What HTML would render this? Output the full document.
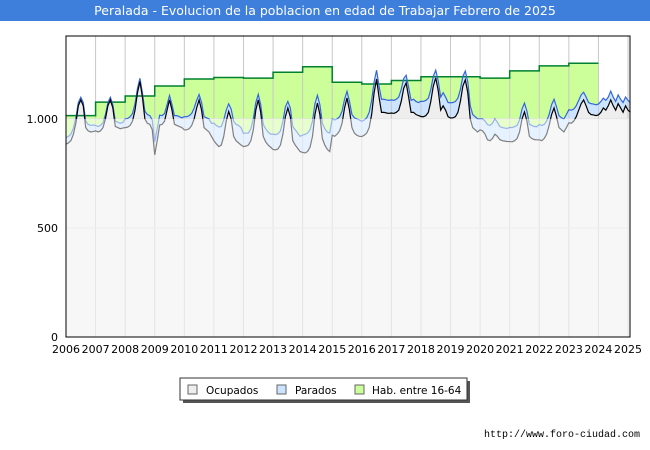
<!DOCTYPE html>
<html><head><meta charset="utf-8"><style>
body{margin:0;background:#fff;font-family:"DejaVu Sans","Liberation Sans",sans-serif;}
#wrap{position:relative;width:650px;height:450px;overflow:hidden;}
</style></head><body>
<div id="wrap">
<svg id="svg" width="650" height="450" xmlns="http://www.w3.org/2000/svg">
<rect x="0" y="0" width="650" height="21" fill="#3d7fdb"/>
<text x="325" y="15" text-anchor="middle" fill="#fff" font-size="12.5" font-family="DejaVu Sans, sans-serif">Peralada - Evolucion de la poblacion en edad de Trabajar Febrero de 2025</text>
<g id="plot"></g>
<g>
<rect x="183" y="381" width="287" height="22" fill="#555"/>
<rect x="180" y="378" width="287" height="22" fill="#fff" stroke="#333"/>
<rect x="188" y="385" width="9" height="9" fill="#eeeeee" stroke="#666"/>
<text x="206" y="394" font-size="10.5" fill="#000">Ocupados</text>
<rect x="277" y="385" width="9" height="9" fill="#cce4ff" stroke="#666"/>
<text x="295" y="394" font-size="10.5" fill="#000">Parados</text>
<rect x="355" y="385" width="9" height="9" fill="#ccff99" stroke="#666"/>
<text x="372" y="394" font-size="10.5" fill="#000">Hab. entre 16-64</text>
</g>
<text x="640" y="437" text-anchor="end" font-size="10" fill="#000" font-family="Liberation Mono, monospace">http://www.foro-ciudad.com</text>
</svg>
</div>
<script>
const years=[2006,2007,2008,2009,2010,2011,2012,2013,2014,2015,2016,2017,2018,2019,2020,2021,2022,2023,2024,2025];
const yTicks=[0,500,1000];
const yTickLabels=["0","500","1.000"];
const habYears=[2006,2007,2008,2009,2010,2011,2012,2013,2014,2015,2016,2017,2018,2019,2020,2021,2022,2023];
const habValues=[1015,1077,1105,1151,1183,1190,1187,1214,1239,1168,1160,1176,1193,1193,1187,1220,1243,1255];
const ocupados=[
884,890,900,930,980,1060,1087,1060,960,945,940,942,
945,940,945,960,1000,1060,1087,1050,965,960,955,958,
960,962,970,990,1040,1120,1171,1100,1000,980,975,950,
835,900,972,975,990,1040,1087,1040,975,970,965,960,
950,950,955,970,1000,1050,1087,1040,960,950,940,920,
900,885,873,880,920,990,1034,1000,920,900,890,880,
873,875,880,900,950,1040,1087,1030,920,895,880,870,
860,858,862,880,930,1010,1050,1010,900,880,865,850,
846,844,850,870,920,1020,1073,1020,910,880,860,850,
925,920,930,945,980,1050,1096,1040,960,935,925,920,
919,925,935,960,1020,1120,1183,1100,1030,1030,1027,1025,
1027,1025,1030,1040,1080,1140,1165,1100,1030,1030,1020,1015,
1011,1010,1015,1030,1080,1150,1188,1130,1040,1060,1040,1010,
1004,1005,1010,1030,1080,1150,1179,1120,1000,960,950,940,
950,945,930,904,900,910,930,920,905,900,898,896,
896,895,900,910,940,1000,1032,990,920,910,905,904,
904,900,910,930,970,1020,1050,1010,960,950,940,960,
982,980,990,1010,1040,1070,1087,1060,1030,1020,1018,1015,
1018,1030,1050,1040,1060,1087,1060,1040,1070,1050,1030,1060,
1040,1030];
const parados=[
30,30,30,28,25,15,12,15,30,30,30,30,
25,25,25,22,20,15,12,15,25,25,25,25,
40,40,40,35,30,20,15,20,35,40,40,45,
60,55,45,40,35,25,20,25,40,45,45,45,
60,60,60,55,50,35,25,35,50,55,60,60,
80,85,90,85,75,50,35,45,70,75,80,80,
60,60,55,55,50,35,25,35,55,60,60,60,
70,70,70,65,60,45,30,40,65,70,70,70,
80,85,85,80,70,50,35,45,70,75,80,85,
75,75,70,65,55,40,30,40,60,70,75,75,
70,70,70,70,65,50,40,50,60,60,60,60,
60,60,60,60,55,45,35,45,55,60,60,60,
70,70,70,65,55,45,35,45,60,60,60,65,
70,70,70,65,55,45,40,50,60,60,60,60,
50,55,60,70,70,70,70,65,60,60,60,60,
65,65,65,60,55,45,40,45,55,60,60,60,
70,70,65,60,50,45,40,45,55,55,60,60,
60,60,55,50,45,40,35,40,45,50,50,50,
50,50,45,45,40,40,40,40,40,40,45,40,
45,45];
const NS="http://www.w3.org/2000/svg";
const L=66,R=630,T=36,B=337,X0=2006;
const yMax=1380;
function xs(t){return L+(t-X0)/(2025-X0)*(628-L);}
function ys(v){return B-v/yMax*(B-T);}
const g=document.getElementById('plot');
function mk(tag,attrs){const e=document.createElementNS(NS,tag);for(const k in attrs)e.setAttribute(k,attrs[k]);g.appendChild(e);return e;}
const bg=mk('rect',{x:L,y:T,width:R-L,height:B-T,fill:'#fff'});


let hp=`M${xs(habYears[0])},${ys(0)}`;
let hl='';
habYears.forEach((y,i)=>{const seg=` L${xs(y)},${ys(habValues[i])} L${xs(y+1)},${ys(habValues[i])}`;hp+=seg;hl+=seg;});
hl='M'+hl.trim().slice(1);
hp+=` L${xs(habYears[habYears.length-1]+1)},${ys(0)} Z`;
const ha=mk('path',{d:hp,fill:'#ccff99'});


const tt=ocupados.map((_,i)=>X0+i/12);
const topVals=ocupados.map((v,i)=>v+parados[i]);
function area(vals){let d=`M${xs(tt[0])},${ys(0)}`;vals.forEach((v,i)=>d+=` L${xs(tt[i])},${ys(v)}`);d+=` L${xs(tt[tt.length-1])},${ys(0)} Z`;return d;}
function line(vals){return vals.map((v,i)=>(i?'L':'M')+xs(tt[i])+','+ys(v)).join(' ');}
const pa=mk('path',{d:area(topVals),fill:'#cce4ff'});


const oa=mk('path',{d:area(ocupados),fill:'#eeeeee'});


years.forEach(y=>{const l=mk('line',{x1:xs(y),x2:xs(y),y1:T,y2:B,stroke:'#c8c8c8','stroke-width':1});


const t=mk('text',{x:xs(y),y:B+16,'text-anchor':'middle','font-size':11,fill:'#000'});t.textContent=y;

});
yTicks.forEach((v,i)=>{const l=mk('line',{x1:L,x2:R,y1:ys(v),y2:ys(v),stroke:'#dddddd','stroke-width':1});


const t=mk('text',{x:L-8,y:ys(v)+4,'text-anchor':'end','font-size':11,fill:'#000'});t.textContent=yTickLabels[i];

});
const hln=mk('path',{d:hl,fill:'none',stroke:'#008030','stroke-width':1.5});


const pl=mk('path',{d:line(topVals),fill:'none',stroke:'#3366dd','stroke-width':1.2});


const ol=mk('path',{d:line(ocupados),fill:'none',stroke:'#000','stroke-width':1.2});


const ov=mk('rect',{x:L,y:ys(1000),width:R-L,height:B-ys(1000),fill:'#fff',opacity:0.5});


const fr=mk('rect',{x:L,y:T,width:R-L,height:B-T,fill:'none',stroke:'#000','stroke-width':1});


</script>
</body></html>
